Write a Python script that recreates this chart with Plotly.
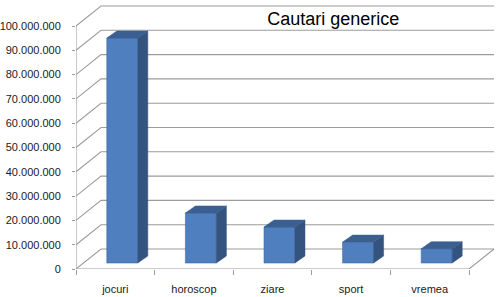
import plotly.graph_objects as go

# ---- data ----
CATEGORIES = ["jocuri", "horoscop", "ziare", "sport", "vremea"]
VALUES = [92_600_000, 20_600_000, 14_800_000, 8_600_000, 5_900_000]
Y_TICKS = [0, 10_000_000, 20_000_000, 30_000_000, 40_000_000, 50_000_000,
           60_000_000, 70_000_000, 80_000_000, 90_000_000, 100_000_000]
TITLE = "Cautari generice"

# ---- geometry / style ----
W, H = 500, 297
ML, MR, MT, MB = 76, 1, 4, 28
PX_PER_CAT = 78.6
PX_PER_M = 2.43
X_MIN = -0.5
X_MAX = X_MIN + (W - ML - MR) / PX_PER_CAT
Y_MAX = (H - MT - MB) / PX_PER_M * 1_000_000

WALL_DX = 25 / PX_PER_CAT
WALL_DY = 20 / PX_PER_M * 1_000_000
BAR_SHIFT_X = 7 / PX_PER_CAT
BAR_BASE = 6 / PX_PER_M * 1_000_000
BAR_W = 31 / PX_PER_CAT
DEPTH_DX = 10 / PX_PER_CAT
DEPTH_DY = 7 / PX_PER_M * 1_000_000

FRONT = "#4F7FBE"
SIDE = "#34547F"
TOP = "#3B5F91"
GRID = "#9C9C9C"
TXT = "#1A1A1A"
FONT = "Liberation Sans, Arial, sans-serif"

n = len(CATEGORIES)
x_left = X_MIN
x_right = X_MIN + n

fig = go.Figure()

# frame (walls, gridlines, floor) as shapes below traces
shapes = []
line = dict(color=GRID, width=1.1)
for t in Y_TICKS:
    path = (f"M {x_left},{t} L {x_left + WALL_DX},{t + WALL_DY} "
            f"L {x_right + WALL_DX},{t + WALL_DY}")
    shapes.append(dict(type="path", path=path, xref="x", yref="y",
                       line=line, layer="below"))
# floor front edge and right edge
shapes.append(dict(type="path",
                   path=(f"M {x_left},0 L {x_right},0 "
                         f"L {x_right + WALL_DX},{WALL_DY}"),
                   xref="x", yref="y", line=line, layer="below"))
# front vertical axis
shapes.append(dict(type="line", x0=x_left, x1=x_left, y0=0, y1=Y_TICKS[-1],
                   xref="x", yref="y", line=line, layer="below"))

# front faces
xs = [i + BAR_SHIFT_X for i in range(n)]
fig.add_trace(go.Bar(
    x=xs, y=VALUES, base=[BAR_BASE] * n, width=BAR_W,
    marker=dict(color=FRONT, line=dict(color="#41699C", width=0.6)),
    hovertext=CATEGORIES, showlegend=False,
))

# side faces
sx, sy = [], []
for xc, v in zip(xs, VALUES):
    xr = xc + BAR_W / 2
    sx += [xr, xr + DEPTH_DX, xr + DEPTH_DX, xr, xr, None]
    sy += [BAR_BASE, BAR_BASE + DEPTH_DY, BAR_BASE + v + DEPTH_DY,
           BAR_BASE + v, BAR_BASE, None]
fig.add_trace(go.Scatter(x=sx, y=sy, mode="lines", fill="toself",
                         fillcolor=SIDE, line=dict(color=SIDE, width=0.5),
                         hoverinfo="skip", showlegend=False))

# top faces
tx, ty = [], []
for xc, v in zip(xs, VALUES):
    xl = xc - BAR_W / 2
    xr = xc + BAR_W / 2
    top = BAR_BASE + v
    tx += [xl, xr, xr + DEPTH_DX, xl + DEPTH_DX, xl, None]
    ty += [top, top, top + DEPTH_DY, top + DEPTH_DY, top, None]
fig.add_trace(go.Scatter(x=tx, y=ty, mode="lines", fill="toself",
                         fillcolor=TOP, line=dict(color=TOP, width=0.5),
                         hoverinfo="skip", showlegend=False))

fig.update_layout(
    width=W, height=H,
    margin=dict(l=ML, r=MR, t=MT, b=MB, pad=0),
    paper_bgcolor="white", plot_bgcolor="white",
    separators=",.",
    font=dict(family=FONT, size=11, color=TXT),
    shapes=shapes,
    title=dict(text=TITLE, x=304 / W, y=1 - 19 / H, xanchor="center",
               yanchor="middle", xref="paper", yref="container",
               font=dict(family=FONT, size=18, color="#000000")),
    xaxis=dict(range=[X_MIN, X_MAX], showgrid=False, zeroline=False,
               showline=False, tickmode="array",
               tickvals=list(range(n)), ticktext=CATEGORIES, ticks="",
               ticklabelstandoff=12,
               minor=dict(tickmode="linear", tick0=X_MIN, dtick=1,
                          ticks="outside", ticklen=5, tickcolor=GRID,
                          showgrid=False),
               fixedrange=True),
    yaxis=dict(range=[0, Y_MAX], showgrid=False, zeroline=False,
               showline=False, tickmode="array", tickvals=Y_TICKS,
               tickformat=",d", ticks="outside", ticklen=3,
               tickcolor=GRID, ticklabelstandoff=9, fixedrange=True),
)

fig.write_html("out.html")
